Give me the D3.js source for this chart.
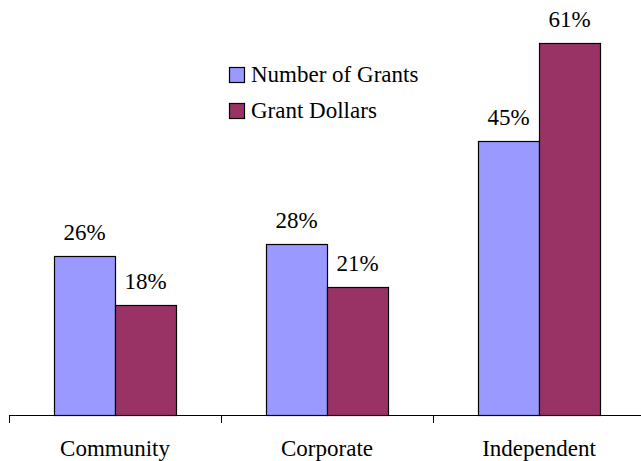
<!DOCTYPE html>
<html>
<head>
<meta charset="utf-8">
<script src="https://cdn.jsdelivr.net/npm/d3@7"></script>
<style>
  svg text { font-family: "Liberation Serif", Tinos, "Times New Roman", serif !important; }
</style>
</head>
<body style="margin:0">
<svg width="641" height="461"></svg>
<script>
var categories = ["Community", "Corporate", "Independent"];
var seriesNames = ["Number of Grants", "Grant Dollars"];
var numberOfGrants = [26, 28, 45];
var grantDollars = [18, 21, 61];
var colors = ["#9999FF", "#993366"];

var data = categories.map(function(c, i) {
    return { cat: c, values: [numberOfGrants[i], grantDollars[i]] };
});

var svg = d3.select("svg");
var baseY = 415;

function serif(sel) {
    return sel.style("font-size", "23px")
        .attr("fill", "#000");
}

var x = d3.scaleBand()
    .domain(categories)
    .range([9, 645]);

var xInner = d3.scaleBand()
    .domain([0, 1])
    .range([45, x.bandwidth() - 45]);

var y = d3.scaleLinear()
    .domain([0, 61])
    .range([baseY, 43]);

// axis line and ticks
svg.append("line")
    .attr("x1", 9).attr("x2", 641)
    .attr("y1", baseY + 0.5).attr("y2", baseY + 0.5)
    .attr("stroke", "#000");

svg.selectAll(".tick")
    .data(categories)
  .enter().append("line")
    .attr("class", "tick")
    .attr("x1", function(d) { return Math.round(x(d)) + 0.5; })
    .attr("x2", function(d) { return Math.round(x(d)) + 0.5; })
    .attr("y1", baseY).attr("y2", baseY + 8)
    .attr("stroke", "#000");

svg.selectAll(".catlabel")
    .data(categories)
  .enter().append("text")
    .attr("class", "catlabel")
    .attr("x", function(d) { return x(d) + x.bandwidth() / 2; })
    .attr("y", 456)
    .attr("text-anchor", "middle")
    .call(serif)
    .text(function(d) { return d; });

var groups = svg.selectAll(".grp")
    .data(data)
  .enter().append("g")
    .attr("class", "grp")
    .attr("transform", function(d) { return "translate(" + x(d.cat) + ",0)"; });

groups.selectAll("rect")
    .data(function(d) { return d.values; })
  .enter().append("rect")
    .attr("x", function(d, i) { return Math.round(xInner(i)) + 0.5; })
    .attr("y", function(d) { return Math.round(y(d)) + 0.5; })
    .attr("width", Math.round(xInner.bandwidth()))
    .attr("height", function(d) { return baseY - Math.round(y(d)); })
    .attr("fill", function(d, i) { return colors[i]; })
    .attr("stroke", "#000")
    .attr("stroke-width", 1.2);

groups.selectAll(".val")
    .data(function(d) { return d.values; })
  .enter().append("text")
    .attr("class", "val")
    .attr("x", function(d, i) { return xInner(i) + xInner.bandwidth() / 2; })
    .attr("y", function(d) { return y(d) - 16; })
    .attr("text-anchor", "middle")
    .call(serif)
    .text(function(d) { return d + "%"; });

// legend
var legend = svg.selectAll(".legend")
    .data(seriesNames)
  .enter().append("g")
    .attr("class", "legend")
    .attr("transform", function(d, i) { return "translate(229," + (67 + i * 36) + ")"; });

legend.append("rect")
    .attr("x", 0.5).attr("y", 0.5)
    .attr("width", 15).attr("height", 15)
    .attr("fill", function(d, i) { return colors[i]; })
    .attr("stroke", "#000")
    .attr("stroke-width", 1.2);

legend.append("text")
    .attr("x", 22)
    .attr("y", 15)
    .call(serif)
    .text(function(d) { return d; });
</script>
</body>
</html>
